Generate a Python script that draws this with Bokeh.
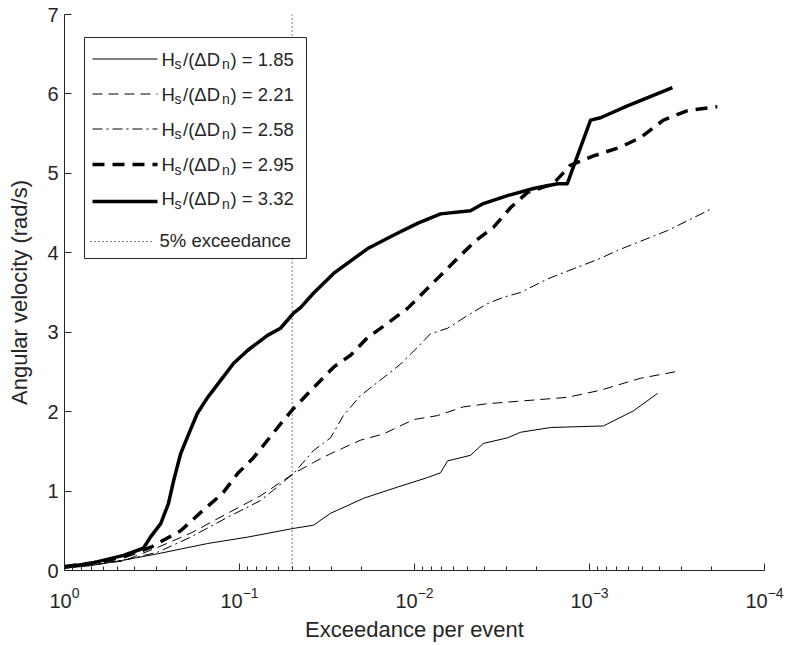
from bokeh.plotting import figure
from bokeh.models import Range1d, FixedTicker, LogTickFormatter, Span, BoxAnnotation, Label, Arrow
from bokeh.embed import file_html
from bokeh.resources import INLINE

# ---------------- data ----------------
s185_x = [1.0, 0.71, 0.46, 0.294, 0.152, 0.09, 0.0491, 0.0378, 0.0302, 0.0275, 0.0195, 0.0125,
          0.00843, 0.0071, 0.00647, 0.00479, 0.00404, 0.00294, 0.00248, 0.00167, 0.000832,
          0.000561, 0.000408]
s185_y = [0.03, 0.06, 0.13, 0.21, 0.34, 0.42, 0.53, 0.57, 0.72, 0.76, 0.91, 1.05, 1.17, 1.23,
          1.38, 1.45, 1.60, 1.67, 1.74, 1.80, 1.82, 2.01, 2.23]

s221_x = [1.0, 0.71, 0.46, 0.294, 0.19, 0.117, 0.0759, 0.0491, 0.0378, 0.0302, 0.0204, 0.0150,
          0.01014, 0.0074, 0.00525, 0.00383, 0.00258, 0.00134, 0.000865, 0.000512, 0.00031]
s221_y = [0.04, 0.07, 0.12, 0.29, 0.47, 0.72, 0.94, 1.22, 1.36, 1.47, 1.64, 1.72, 1.90, 1.95,
          2.06, 2.10, 2.13, 2.18, 2.27, 2.42, 2.51]

s258_x = [1.0, 0.71, 0.46, 0.294, 0.19, 0.117, 0.0759, 0.0491, 0.0378, 0.0302, 0.0255, 0.0204,
          0.0150, 0.0120, 0.00962, 0.00811, 0.00647, 0.00498, 0.00383, 0.0031, 0.00248, 0.00174,
          0.00123, 0.000865, 0.000692, 0.000358, 0.000198]
s258_y = [0.04, 0.08, 0.13, 0.23, 0.42, 0.67, 0.88, 1.22, 1.51, 1.67, 1.95, 2.20, 2.43, 2.60,
          2.81, 2.98, 3.05, 3.21, 3.36, 3.44, 3.50, 3.67, 3.80, 3.93, 4.03, 4.28, 4.56]

s295_x = [1.0, 0.71, 0.46, 0.323, 0.217, 0.161, 0.125, 0.1026, 0.0832, 0.0692, 0.0561, 0.0491,
          0.0378, 0.029, 0.0232, 0.0186, 0.0141, 0.01096, 0.00889, 0.00692, 0.00568, 0.00448,
          0.00354, 0.00282, 0.00226, 0.00161, 0.00129, 0.000948, 0.000665, 0.000512, 0.000378,
          0.000275, 0.000186]
s295_y = [0.05, 0.09, 0.17, 0.29, 0.50, 0.76, 0.97, 1.22, 1.42, 1.64, 1.89, 2.04, 2.30, 2.56,
          2.71, 2.93, 3.12, 3.30, 3.50, 3.74, 3.93, 4.15, 4.32, 4.57, 4.76, 4.87, 5.10, 5.22,
          5.33, 5.45, 5.67, 5.79, 5.84]

s332_x = [1.0, 0.71, 0.46, 0.354, 0.323, 0.282, 0.255, 0.238, 0.217, 0.195, 0.174, 0.152, 0.1285,
          0.108, 0.09, 0.0692, 0.0583, 0.0491, 0.0448, 0.0378, 0.029, 0.0186, 0.0132, 0.00962,
          0.0071, 0.00479, 0.00404, 0.00294, 0.00209, 0.00152, 0.00134, 0.000986, 0.000865,
          0.000607, 0.000336]
s332_y = [0.04, 0.09, 0.19, 0.28, 0.42, 0.59, 0.84, 1.13, 1.47, 1.72, 1.98, 2.18, 2.39, 2.61,
          2.77, 2.96, 3.05, 3.24, 3.31, 3.49, 3.74, 4.05, 4.22, 4.37, 4.49, 4.53, 4.62, 4.72,
          4.81, 4.87, 4.87, 5.67, 5.70, 5.85, 6.08]

ratio_labels = ["1.85", "2.21", "2.58", "2.95", "3.32"]
threshold = 0.05
threshold_label = "5% exceedance"
x_major = [1.0, 0.1, 0.01, 0.001, 0.0001]
y_ticks = [0, 1, 2, 3, 4, 5, 6, 7]
x_label = "Exceedance per event"
y_label = "Angular velocity (rad/s)"

# ---------------- styling ----------------
TXT = "#262626"
FONT = "Liberation Sans"
styles = [
    dict(line_width=1.0, line_dash="solid"),
    dict(line_width=1.0, line_dash="10 6"),
    dict(line_width=1.0, line_dash="10 4 2 4"),
    dict(line_width=3.5, line_dash="12 8"),
    dict(line_width=3.5, line_dash="solid"),
]
series = [(s185_x, s185_y), (s221_x, s221_y), (s258_x, s258_y), (s295_x, s295_y), (s332_x, s332_y)]

p = figure(width=787, height=645, x_axis_type="log",
           x_range=Range1d(x_major[0], x_major[-1]), y_range=Range1d(y_ticks[0], y_ticks[-1]),
           output_backend="svg", toolbar_location=None,
           min_border_left=64, min_border_right=23, min_border_top=14, min_border_bottom=75)
p.outline_line_color = None
p.grid.visible = False
p.background_fill_color = "white"
p.border_fill_color = "white"

x_minor = [m * d for d in x_major[1:] for m in range(2, 10)]
p.xaxis.ticker = FixedTicker(ticks=x_major, minor_ticks=x_minor)
p.xaxis.formatter = LogTickFormatter()
p.yaxis.ticker = FixedTicker(ticks=y_ticks, minor_ticks=[])

for ax in (p.xaxis[0], p.yaxis[0]):
    ax.axis_line_color = TXT
    ax.axis_line_width = 1
    ax.major_tick_line_color = TXT
    ax.minor_tick_line_color = TXT
    ax.major_tick_in = 7
    ax.major_tick_out = 0
    ax.minor_tick_in = 4
    ax.minor_tick_out = 0
    ax.major_label_text_font = FONT
    ax.major_label_text_font_size = "20px"
    ax.major_label_text_color = TXT
    ax.axis_label_text_font = FONT
    ax.axis_label_text_font_size = "22px"
    ax.axis_label_text_font_style = "normal"
    ax.axis_label_text_color = TXT

p.xaxis.axis_label = x_label
p.yaxis.axis_label = y_label
p.xaxis.major_label_standoff = 16
p.xaxis.axis_label_standoff = 6
p.yaxis.major_label_standoff = 6
p.yaxis.axis_label_standoff = 12

p.add_layout(Span(location=threshold, dimension="height", line_color="black",
                  line_width=1, line_dash="1 3"))

for (xs, ys), st in zip(series, styles):
    p.line(xs, ys, line_color="black", line_join="round", **st)

# ---------------- legend (screen units, relative to the frame) ----------------
FB = 570  # frame bottom in canvas pixels
FL = 64   # frame left in canvas pixels

p.add_layout(BoxAnnotation(left=84 - FL, right=306 - FL, top=FB - 37, bottom=FB - 258,
                           left_units="screen", right_units="screen",
                           top_units="screen", bottom_units="screen",
                           fill_color="white", fill_alpha=1.0,
                           line_color=TXT, line_width=1, line_alpha=1.0))

line_py = [58.5, 93.5, 128.5, 164, 201, 241]
base_py = [58.5, 93.5, 128.5, 164, 198, 240]


def lab(px, py, text, size):
    p.add_layout(Label(x=px - FL, y=FB - py, x_units="screen", y_units="screen", text=text,
                       text_font=FONT, text_font_size=size, text_color=TXT,
                       text_baseline="alphabetic", text_align="left"))


for i, (lbl, st) in enumerate(zip(ratio_labels, styles)):
    p.add_layout(Arrow(x_start=92 - FL, y_start=FB - line_py[i], x_end=157 - FL, y_end=FB - line_py[i],
                       start_units="screen", end_units="screen", start=None, end=None,
                       line_color="black", **st))
    b = base_py[i]
    lab(161, b, "H", "18.5px")
    lab(174, b + 5, "s", "14px")
    lab(182.5, b, "/(ΔD", "18.5px")
    lab(221.5, b + 5, "n", "14px")
    lab(230, b, ") = " + lbl, "18.5px")

p.add_layout(Arrow(x_start=90 - FL, y_start=FB - line_py[5], x_end=153 - FL, y_end=FB - line_py[5],
                   start_units="screen", end_units="screen", start=None, end=None,
                   line_color="black", line_width=1, line_dash="1 3"))
lab(159, base_py[5], threshold_label, "18.5px")

open("out.html", "w").write(file_html(p, INLINE))
